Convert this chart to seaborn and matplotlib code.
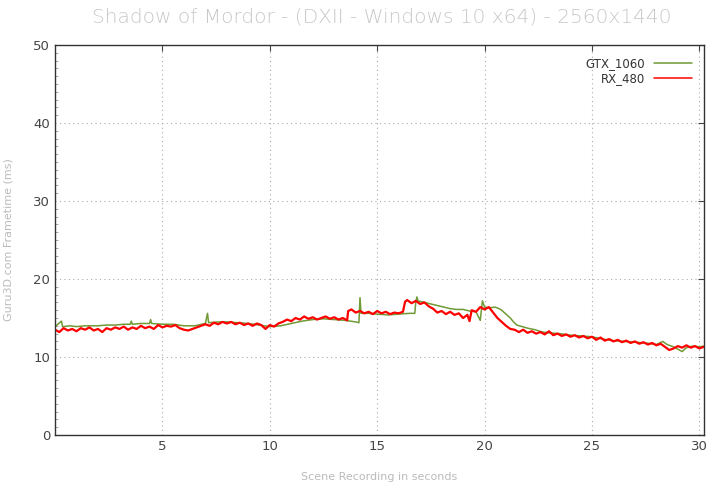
import pandas as pd
import matplotlib.pyplot as plt
import seaborn as sns
from matplotlib.ticker import MultipleLocator

# --- Frametime data ---
gtx_t = [0.0, 0.3, 0.35, 0.7, 1.0, 1.4, 2.0, 2.4, 2.8, 3.2, 3.5, 3.55, 3.6, 4.0, 4.4, 4.45, 4.5,
         5.0, 5.5, 6.0, 6.5, 7.0, 7.1, 7.15, 7.6, 8.0, 8.5, 9.0, 9.5, 10.0, 10.5, 11.0, 11.5,
         12.0, 12.5, 13.0, 13.5, 14.0, 14.15, 14.2, 14.25, 14.6, 15.0, 15.5, 16.0, 16.5, 16.75,
         16.8, 16.85, 16.9, 17.2, 17.5, 17.8, 18.1, 18.4, 18.7, 19.0, 19.3, 19.6, 19.8, 19.9,
         20.0, 20.2, 20.5, 20.75, 21.0, 21.2, 21.35, 21.5, 21.75, 22.0, 22.35, 22.7, 23.0, 23.5,
         24.0, 24.5, 25.0, 25.5, 26.0, 26.5, 27.0, 27.5, 28.0, 28.3, 28.5, 28.8, 29.0, 29.2,
         29.4, 29.7, 30.0, 30.2]
gtx_ms = [13.9, 14.6, 13.9, 14.0, 13.9, 14.0, 14.0, 14.1, 14.1, 14.2, 14.2, 14.6, 14.2, 14.3, 14.3, 14.8, 14.3,
          14.2, 14.2, 14.0, 14.0, 14.3, 15.6, 14.4, 14.5, 14.5, 14.4, 14.3, 14.1, 13.9, 14.0, 14.3, 14.6,
          14.8, 14.9, 14.8, 14.7, 14.5, 14.4, 17.6, 15.6, 15.6, 15.5, 15.4, 15.5, 15.6, 15.6,
          17.1, 17.7, 17.2, 17.0, 16.8, 16.6, 16.4, 16.2, 16.1, 16.1, 15.9, 15.8, 14.7, 17.2,
          16.4, 16.3, 16.4, 16.1, 15.5, 15.0, 14.5, 14.1, 13.9, 13.7, 13.5, 13.2, 13.1, 13.0,
          12.8, 12.7, 12.6, 12.3, 12.1, 12.0, 11.9, 11.8, 11.6, 12.0, 11.6, 11.3, 11.0, 10.7,
          11.2, 11.4, 11.3, 11.4]

rx_t = [0.0, 0.2, 0.4, 0.6, 0.8, 1.0, 1.2, 1.4, 1.6, 1.8, 2.0, 2.2, 2.4, 2.6, 2.8, 3.0, 3.2, 3.4,
        3.6, 3.8, 4.0, 4.2, 4.4, 4.6, 4.8, 5.0, 5.2, 5.4, 5.6, 5.8, 6.0, 6.2, 6.4, 6.6, 6.8, 7.0,
        7.2, 7.4, 7.6, 7.8, 8.0, 8.2, 8.4, 8.6, 8.8, 9.0, 9.2, 9.4, 9.6, 9.8, 10.0, 10.2, 10.4,
        10.6, 10.8, 11.0, 11.2, 11.4, 11.6, 11.8, 12.0, 12.2, 12.4, 12.6, 12.8, 13.0, 13.2, 13.4,
        13.6, 13.65, 13.8, 14.0, 14.2, 14.4, 14.6, 14.8, 15.0, 15.2, 15.4, 15.6, 15.8, 16.0, 16.2,
        16.3, 16.4, 16.6, 16.8, 17.0, 17.2, 17.4, 17.6, 17.8, 18.0, 18.2, 18.4, 18.6, 18.8, 19.0,
        19.2, 19.3, 19.4, 19.6, 19.8, 20.0, 20.2, 20.4, 20.6, 20.8, 21.0, 21.2, 21.4, 21.6, 21.8,
        22.0, 22.2, 22.4, 22.6, 22.8, 23.0, 23.2, 23.4, 23.6, 23.8, 24.0, 24.2, 24.4, 24.6, 24.8,
        25.0, 25.2, 25.4, 25.6, 25.8, 26.0, 26.2, 26.4, 26.6, 26.8, 27.0, 27.2, 27.4, 27.6, 27.8,
        28.0, 28.2, 28.4, 28.6, 28.8, 29.0, 29.2, 29.4, 29.6, 29.8, 30.0, 30.2]
rx_ms = [13.5, 13.2, 13.7, 13.4, 13.6, 13.3, 13.7, 13.5, 13.8, 13.4, 13.6, 13.2, 13.7, 13.5, 13.8, 13.6, 13.9, 13.5,
         13.8, 13.6, 14.0, 13.7, 13.9, 13.6, 14.1, 13.8, 14.0, 13.9, 14.1, 13.7, 13.5, 13.4, 13.6, 13.8, 14.0, 14.2,
         14.0, 14.4, 14.2, 14.5, 14.3, 14.5, 14.2, 14.4, 14.1, 14.3, 14.0, 14.3, 14.1, 13.6, 14.1, 13.9, 14.3,
         14.5, 14.8, 14.6, 15.0, 14.8, 15.2, 14.9, 15.1, 14.8, 15.0, 15.2, 14.9, 15.1, 14.8, 15.0,
         14.7, 15.9, 16.1, 15.7, 15.9, 15.6, 15.8, 15.5, 15.9, 15.6, 15.8, 15.5, 15.7, 15.6, 15.8,
         17.1, 17.3, 16.9, 17.2, 16.8, 17.0, 16.5, 16.2, 15.7, 15.9, 15.5, 15.8, 15.4, 15.6, 15.0,
         15.4, 14.6, 16.0, 15.8, 16.4, 16.1, 16.4, 15.7, 15.0, 14.5, 14.0, 13.6, 13.5, 13.2, 13.5,
         13.1, 13.3, 13.0, 13.2, 12.9, 13.3, 12.8, 13.0, 12.7, 12.9, 12.6, 12.8, 12.5, 12.7, 12.4,
         12.6, 12.2, 12.5, 12.1, 12.3, 12.0, 12.2, 11.9, 12.1, 11.8, 12.0, 11.7, 11.9, 11.6, 11.8,
         11.5, 11.7, 11.3, 10.9, 11.1, 11.4, 11.2, 11.5, 11.2, 11.4, 11.1, 11.3]

series_names = ["GTX_1060", "RX_480"]
series_colors = ["#6f9a35", "#ff0000"]

df = pd.concat([
    pd.DataFrame({"time": gtx_t, "ms": gtx_ms, "card": series_names[0]}),
    pd.DataFrame({"time": rx_t, "ms": rx_ms, "card": series_names[1]}),
])

sns.set_style("white")
fig = plt.figure(figsize=(7.25, 4.84), dpi=100)
ax = fig.add_axes([0.0759, 0.1012, 0.8952, 0.8058])

sns.lineplot(data=df, x="time", y="ms", hue="card", palette=series_colors,
             estimator=None, sort=False, linewidth=1.1, ax=ax)
# the red trace looks thicker in the original (noisy samples)
ax.get_lines()[1].set_linewidth(1.6)

ax.set_xlim(0, 30.22)
ax.set_ylim(0, 50)
ax.set_xticks([5, 10, 15, 20, 25, 30])
ax.set_yticks([0, 10, 20, 30, 40, 50])
ax.yaxis.set_minor_locator(MultipleLocator(1))
ax.tick_params(axis="both", which="major", direction="in", length=4, color="#444444",
               labelsize=9.5, labelcolor="#444444", top=True, right=True)
ax.tick_params(axis="y", which="minor", direction="in", length=2, color="#999999", left=True)
ax.grid(True, linestyle=(0, (1, 3)), color="#aaaaaa", linewidth=0.8)
for s in ax.spines.values():
    s.set_color("#333333")
    s.set_linewidth(1.0)

ax.set_xlabel("Scene Recording in seconds", color="#bbbbbb", fontsize=8, labelpad=14)
ax.set_ylabel("Guru3D.com Frametime (ms)", color="#bbbbbb", fontsize=8, labelpad=14)
fig.suptitle("Shadow of Mordor - (DXII - Windows 10 x64) - 2560x1440", color="#c8c8c8",
             fontsize=14.5, x=0.527, y=0.985, fontweight="light")

leg = ax.legend(loc="upper right", frameon=False, markerfirst=False, fontsize=8.5,
                handlelength=3.2, borderaxespad=0.6, labelspacing=0.2)
for t in leg.get_texts():
    t.set_color("#333333")

plt.savefig("out.png", dpi=100)
